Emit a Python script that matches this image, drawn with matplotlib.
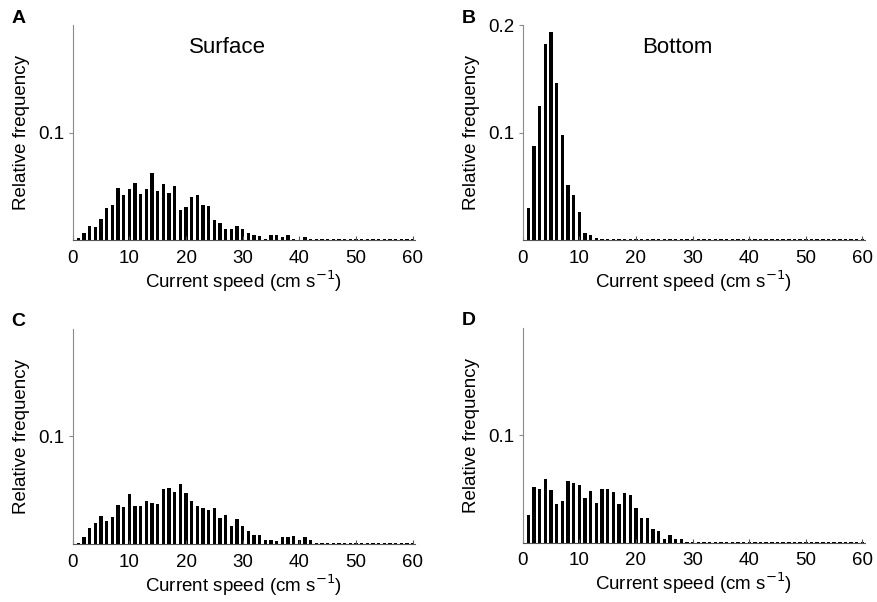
import matplotlib
matplotlib.use("Agg")
import matplotlib.pyplot as plt
import numpy as np

plt.rcParams['font.family'] = ['Liberation Sans', 'DejaVu Sans']

speed = np.arange(1, 61)
TAIL = 0.0008

surface_top = [0.002, 0.007, 0.013, 0.012, 0.020, 0.030, 0.033, 0.049, 0.042, 0.048,
               0.053, 0.043, 0.048, 0.063, 0.046, 0.052, 0.044, 0.050, 0.028, 0.031,
               0.040, 0.042, 0.033, 0.032, 0.019, 0.016, 0.010, 0.010, 0.013, 0.010,
               0.007, 0.0046, 0.004, 0.001, 0.005, 0.0046, 0.003, 0.005, 0.0015, 0.0006,
               0.003]
bottom_top = [0.030, 0.088, 0.125, 0.183, 0.194, 0.146, 0.098, 0.051, 0.042, 0.026,
              0.007, 0.005, 0.002]
surface_bot = [0.001, 0.006, 0.015, 0.019, 0.026, 0.021, 0.025, 0.036, 0.034, 0.046,
               0.035, 0.035, 0.040, 0.038, 0.037, 0.051, 0.052, 0.048, 0.056, 0.047,
               0.040, 0.035, 0.033, 0.032, 0.033, 0.024, 0.027, 0.017, 0.023, 0.017,
               0.012, 0.008, 0.008, 0.004, 0.0035, 0.003, 0.006, 0.006, 0.007, 0.004,
               0.006, 0.004]
bottom_bot = [0.026, 0.052, 0.050, 0.059, 0.049, 0.036, 0.039, 0.057, 0.056, 0.054,
              0.042, 0.048, 0.037, 0.050, 0.050, 0.047, 0.036, 0.046, 0.044, 0.032,
              0.023, 0.023, 0.013, 0.011, 0.0034, 0.007, 0.003, 0.003]

panels = [("A", "Surface", surface_top, [0.1]),
          ("B", "Bottom", bottom_top, [0.1, 0.2]),
          ("C", None, surface_bot, [0.1]),
          ("D", None, bottom_bot, [0.1])]

positions = [[0.083, 0.601, 0.390, 0.357],
             [0.596, 0.601, 0.390, 0.357],
             [0.083, 0.0965, 0.390, 0.357],
             [0.596, 0.0985, 0.390, 0.357]]

fig = plt.figure(figsize=(8.77, 6.02), dpi=100)

for (letter, title, vals, yt), pos in zip(panels, positions):
    ax = fig.add_axes(pos)
    heights = np.full(60, TAIL)
    heights[:len(vals)] = vals
    ax.bar(speed, heights, width=0.6, color="black", linewidth=0)
    ax.set_xlim(0, 60.4)
    ax.set_ylim(0, 0.2)
    ax.set_xticks(range(0, 61, 10))
    ax.set_yticks(yt)
    ax.set_yticklabels([f"{v:.1f}" for v in yt])
    ax.spines['top'].set_visible(False)
    ax.spines['right'].set_visible(False)
    ax.spines['left'].set_color("#8a8a8a")
    ax.spines['bottom'].set_color("#555555")
    ax.tick_params(axis='x', direction='in', length=3, color="#555555",
                   labelsize=13.5, pad=7)
    ax.tick_params(axis='y', direction='out', length=3, color="#8a8a8a",
                   labelsize=13.5, pad=3)
    ax.set_xlabel("Current speed (cm s$^{-1}$)", fontsize=13.5, labelpad=1)
    ax.set_ylabel("Relative frequency", fontsize=13.5, labelpad=6)
    if title:
        ax.text(0.452, 0.898, title, transform=ax.transAxes, fontsize=16,
                ha="center", va="center")
    fig.text(pos[0] - 0.062, pos[1] + pos[3] + 0.012, letter, fontsize=14,
             fontweight="bold", ha="center", va="center")

fig.savefig("out.png", dpi=100)
